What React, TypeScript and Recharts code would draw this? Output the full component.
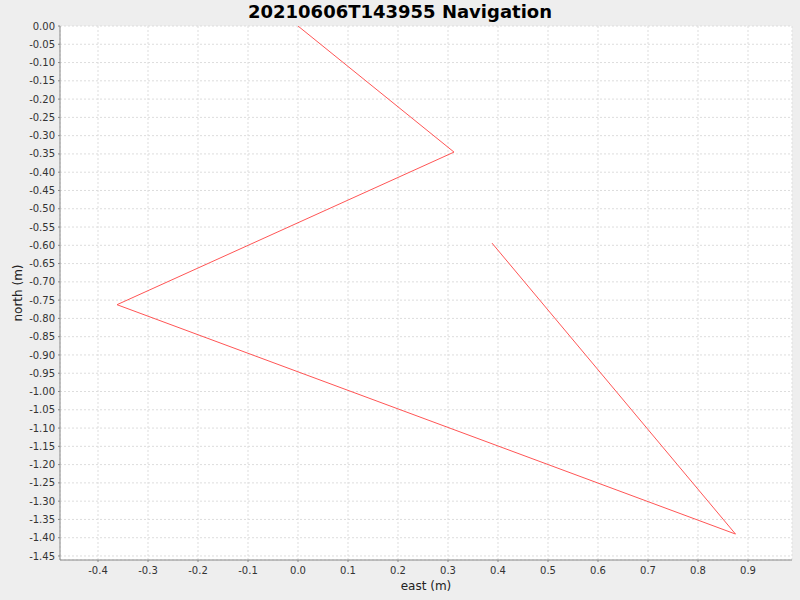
import React from 'react';
import { LineChart, Line, XAxis, YAxis, CartesianGrid } from 'recharts';

const east = [0.0, 0.312, -0.362, 0.875, 0.388];
const north = [0.0, -0.345, -0.7625, -1.39, -0.594];

const xTicks = [-0.4, -0.3, -0.2, -0.1, 0.0, 0.1, 0.2, 0.3, 0.4, 0.5, 0.6, 0.7, 0.8, 0.9];
const yTicks = [
  0.0, -0.05, -0.1, -0.15, -0.2, -0.25, -0.3, -0.35, -0.4, -0.45,
  -0.5, -0.55, -0.6, -0.65, -0.7, -0.75, -0.8, -0.85, -0.9, -0.95,
  -1.0, -1.05, -1.1, -1.15, -1.2, -1.25, -1.3, -1.35, -1.4, -1.45,
];
const xDomain = [-0.476, 0.988];
const yDomain = [-1.461, 0.0];

const title = '20210606T143955 Navigation';
const xLabel = 'east (m)';
const yLabel = 'north (m)';

const data = east.map((e, i) => ({ east: e, north: north[i] }));

const font = 'DejaVu Sans, sans-serif';
const tickStyle = { fontSize: 10, fill: '#333', fontFamily: font };

export default function App() {
  return (
    <div style={{ position: 'absolute', left: 0, top: 0, width: 800, height: 600, background: '#eeeeee', fontFamily: font }}>
      <LineChart width={800} height={600} data={data} margin={{ top: 26, right: 8, bottom: 0, left: 0 }}>
        <CartesianGrid
          xAxisId="main"
          yAxisId="main"
          fill="#ffffff"
          stroke="#dddddd"
          strokeDasharray="2 2"
        />
        <XAxis
          xAxisId="main"
          dataKey="east"
          type="number"
          domain={xDomain}
          ticks={xTicks}
          allowDataOverflow
          tickFormatter={(v: number) => v.toFixed(1)}
          tick={tickStyle}
          tickSize={2}
          tickMargin={5}
          height={40}
          stroke="#888"
          label={{ value: xLabel, position: 'center', dy: 6, fontSize: 12, fill: '#222', fontFamily: font }}
        />
        <XAxis
          xAxisId="top"
          orientation="top"
          type="number"
          domain={[0, 1]}
          tick={false}
          tickLine={false}
          height={0}
          stroke="#aaa"
        />
        <YAxis
          yAxisId="main"
          dataKey="north"
          type="number"
          domain={yDomain}
          ticks={yTicks}
          allowDataOverflow
          interval={0}
          tickFormatter={(v: number) => v.toFixed(2)}
          tick={tickStyle}
          tickSize={2}
          tickMargin={3}
          width={60}
          stroke="#888"
          label={{ value: yLabel, angle: -90, position: 'center', dx: -12, fontSize: 12, fill: '#222', fontFamily: font }}
        />
        <YAxis
          yAxisId="right"
          orientation="right"
          type="number"
          domain={[0, 1]}
          tick={false}
          tickLine={false}
          width={0}
          stroke="#aaa"
        />
        <Line
          xAxisId="main"
          yAxisId="main"
          type="linear"
          dataKey="north"
          stroke="#ff5555"
          strokeWidth={1}
          dot={false}
          isAnimationActive={false}
        />
      </LineChart>
      <div
        style={{
          position: 'absolute',
          left: 0,
          top: 0,
          width: 800,
          textAlign: 'center',
          fontWeight: 'bold',
          fontSize: 18,
          lineHeight: '24px',
          color: '#000',
        }}
      >
        {title}
      </div>
    </div>
  );
}
